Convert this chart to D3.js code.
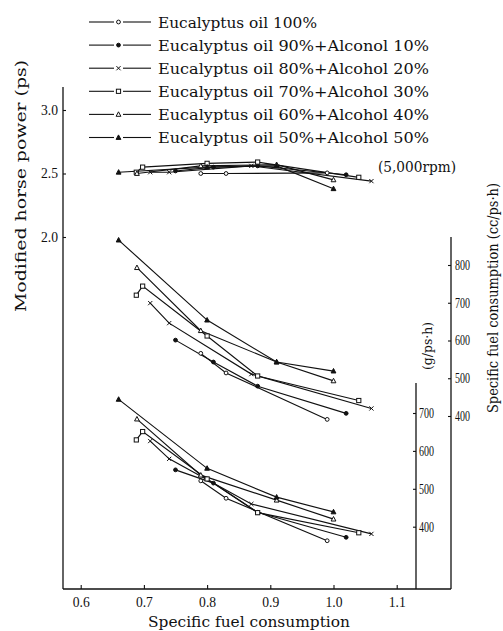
<!DOCTYPE html>
<html>
<head>
<meta charset="utf-8">
<script src="https://cdn.jsdelivr.net/npm/d3@7"></script>
<style>
body { margin: 0; background: #fff; }
text { font-family: "DejaVu Serif", "Liberation Serif", serif; fill: #111; }
</style>
</head>
<body>
<script>

// fuel blends (legend order)
var fuels = [
  "Eucalyptus oil 100%",
  "Eucalyptus oil 90%+Alconol 10%",
  "Eucalyptus oil 80%+Alcohol 20%",
  "Eucalyptus oil 70%+Alcohol 30%",
  "Eucalyptus oil 60%+Alcohol 40%",
  "Eucalyptus oil 50%+Alcohol 50%"
];

// x values (horizontal axis) of each test point, per blend
var loadX = [
  [0.79, 0.83, 0.99],
  [0.75, 0.81, 0.88, 1.02],
  [0.71, 0.74, 0.87, 1.06],
  [0.688, 0.698, 0.80, 0.88, 1.04],
  [0.689, 0.79, 0.91, 1.00],
  [0.66, 0.80, 0.91, 1.00]
];

// modified horse power (ps)
var hpVal = [
  [2.50, 2.50, 2.505],
  [2.52, 2.55, 2.56, 2.49],
  [2.51, 2.51, 2.56, 2.44],
  [2.51, 2.55, 2.58, 2.59, 2.47],
  [2.50, 2.56, 2.57, 2.45],
  [2.51, 2.55, 2.56, 2.38]
];

// specific fuel consumption (cc/ps.h)
var ccVal = [
  [566, 514, 391],
  [601, 543, 479, 407],
  [699, 646, 511, 420],
  [720, 744, 612, 506, 441],
  [793, 626, 543, 493],
  [866, 654, 543, 519]
];

// specific fuel consumption (g/ps.h)
var gVal = [
  [521, 475, 363],
  [550, 515, 438, 372],
  [626, 579, 460, 381],
  [629, 651, 526, 437, 384],
  [684, 536, 470, 420],
  [736, 554, 478, 439]
];

var xTicks = [0.6, 0.7, 0.8, 0.9, 1.0, 1.1];
var hpTicks = [2.0, 2.5, 3.0];
var ccTicks = [400, 500, 600, 700, 800];
var gTicks = [400, 500, 600, 700];

// marker style per blend
var markerTypes = ["circle", "dot", "cross", "square", "triangle", "filledTriangle"];

var w = 503, h = 631;
var left = 63, bottom = 589, gAxisX = 416, ccAxisX = 451;

var svg = d3.select("body").append("svg")
    .attr("width", w)
    .attr("height", h);

var x = d3.scaleLinear().domain([0.6, 1.1]).range([80.7, 396.7]);
var yHp = d3.scaleLinear().domain([2.0, 3.0]).range([237, 110]);
var yCc = d3.scaleLinear().domain([400, 800]).range([416, 265]);
var yG = d3.scaleLinear().domain([400, 700]).range([526.7, 413]);

function marker(g, type, cx, cy) {
  var s = 2.1;
  if (type == "circle" || type == "dot") {
    g.append("circle").attr("cx", cx).attr("cy", cy).attr("r", s - 0.2)
      .attr("fill", type == "dot" ? "#111" : "#fff")
      .attr("stroke", "#111").attr("stroke-width", 1);
  } else if (type == "square") {
    g.append("rect").attr("x", cx - s).attr("y", cy - s)
      .attr("width", 2 * s).attr("height", 2 * s)
      .attr("fill", "#fff").attr("stroke", "#111").attr("stroke-width", 1);
  } else if (type == "cross") {
    g.append("path")
      .attr("d", "M" + (cx - s) + "," + (cy - s) + "L" + (cx + s) + "," + (cy + s) +
                 "M" + (cx - s) + "," + (cy + s) + "L" + (cx + s) + "," + (cy - s))
      .attr("stroke", "#111").attr("stroke-width", 1);
  } else {
    g.append("path")
      .attr("d", "M" + cx + "," + (cy - s - 0.5) + "L" + (cx + s + 0.3) + "," + (cy + s - 0.2) +
                 "L" + (cx - s - 0.3) + "," + (cy + s - 0.2) + "Z")
      .attr("fill", type == "filledTriangle" ? "#111" : "#fff")
      .attr("stroke", "#111").attr("stroke-width", 1);
  }
}

// curves
var groups = [[hpVal, yHp], [ccVal, yCc], [gVal, yG]];
var line = d3.line();

groups.forEach(function(grp) {
  var vals = grp[0], yScale = grp[1];
  var layer = svg.append("g");
  fuels.forEach(function(f, i) {
    var pts = loadX[i].map(function(v, j) { return [x(v), yScale(vals[i][j])]; });
    layer.append("path")
      .attr("d", line(pts))
      .attr("fill", "none")
      .attr("stroke", "#111")
      .attr("stroke-width", 1.15);
  });
  fuels.forEach(function(f, i) {
    loadX[i].forEach(function(v, j) {
      marker(layer, markerTypes[i], x(v), yScale(vals[i][j]));
    });
  });
});

// axis frame lines
var frame = svg.append("g").attr("stroke", "#111").attr("stroke-width", 1.3);
frame.append("line").attr("x1", left).attr("x2", left).attr("y1", 87).attr("y2", bottom);
frame.append("line").attr("x1", left).attr("x2", ccAxisX).attr("y1", bottom).attr("y2", bottom);
frame.append("line").attr("x1", gAxisX).attr("x2", gAxisX).attr("y1", 383).attr("y2", bottom);
frame.append("line").attr("x1", ccAxisX).attr("x2", ccAxisX).attr("y1", 237).attr("y2", bottom);

function styleAxis(sel, tl) {
  sel.select(".domain").remove();
  sel.selectAll("line").attr("stroke", "#111").attr("stroke-width", 1.1);
  sel.selectAll("text")
    .style("font-family", "'Liberation Serif', serif")
    .attr("font-size", 14)
    .attr("fill", "#111")
    .attr("textLength", tl)
    .attr("lengthAdjust", "spacingAndGlyphs");
}

svg.append("g")
  .attr("transform", "translate(0," + bottom + ")")
  .call(d3.axisBottom(x).tickValues(xTicks).tickSize(-4).tickPadding(8).tickFormat(d3.format(".1f")))
  .call(styleAxis, 17);

svg.append("g")
  .attr("transform", "translate(" + left + ",0)")
  .call(d3.axisLeft(yHp).tickValues(hpTicks).tickSize(-3).tickPadding(5).tickFormat(d3.format(".1f")))
  .call(styleAxis, 17);

svg.append("g")
  .attr("transform", "translate(" + gAxisX + ",0)")
  .call(d3.axisRight(yG).tickValues(gTicks).tickSize(-3).tickPadding(3))
  .call(styleAxis, 15);

svg.append("g")
  .attr("transform", "translate(" + ccAxisX + ",0)")
  .call(d3.axisRight(yCc).tickValues(ccTicks).tickSize(-3).tickPadding(4))
  .call(styleAxis, 15);

// legend
var legend = svg.append("g");
fuels.forEach(function(f, i) {
  var ly = 22 + i * 23.1;
  legend.append("line").attr("x1", 89).attr("x2", 114).attr("y1", ly).attr("y2", ly)
    .attr("stroke", "#111").attr("stroke-width", 1.1);
  legend.append("line").attr("x1", 123).attr("x2", 151).attr("y1", ly).attr("y2", ly)
    .attr("stroke", "#111").attr("stroke-width", 1.1);
  marker(legend, markerTypes[i], 118.5, ly);
  legend.append("text")
    .attr("x", 158)
    .attr("y", ly + 5.5)
    .attr("font-size", 15)
    .attr("textLength", i == 0 ? 159 : 271)
    .attr("lengthAdjust", "spacingAndGlyphs")
    .text(f);
});

svg.append("text")
  .attr("x", 378).attr("y", 172)
  .attr("font-size", 14)
  .attr("textLength", 78).attr("lengthAdjust", "spacingAndGlyphs")
  .text("(5,000rpm)");

// axis titles
svg.append("text")
  .attr("transform", "translate(26,186) rotate(-90)")
  .attr("text-anchor", "middle")
  .attr("font-size", 15)
  .attr("textLength", 252).attr("lengthAdjust", "spacingAndGlyphs")
  .text("Modified horse power (ps)");

svg.append("text")
  .attr("x", 249).attr("y", 627)
  .attr("text-anchor", "middle")
  .attr("font-size", 15)
  .attr("textLength", 202).attr("lengthAdjust", "spacingAndGlyphs")
  .text("Specific fuel consumption");

svg.append("text")
  .attr("transform", "translate(432,346) rotate(-90)")
  .attr("text-anchor", "middle")
  .attr("font-size", 13)
  .attr("textLength", 48).attr("lengthAdjust", "spacingAndGlyphs")
  .text("(g/ps\u00b7h)");

svg.append("text")
  .attr("transform", "translate(498,298) rotate(-90)")
  .attr("text-anchor", "middle")
  .attr("font-size", 14)
  .attr("textLength", 230).attr("lengthAdjust", "spacingAndGlyphs")
  .text("Specific fuel consumption  (cc/ps\u00b7h)");

</script>
</body>
</html>
